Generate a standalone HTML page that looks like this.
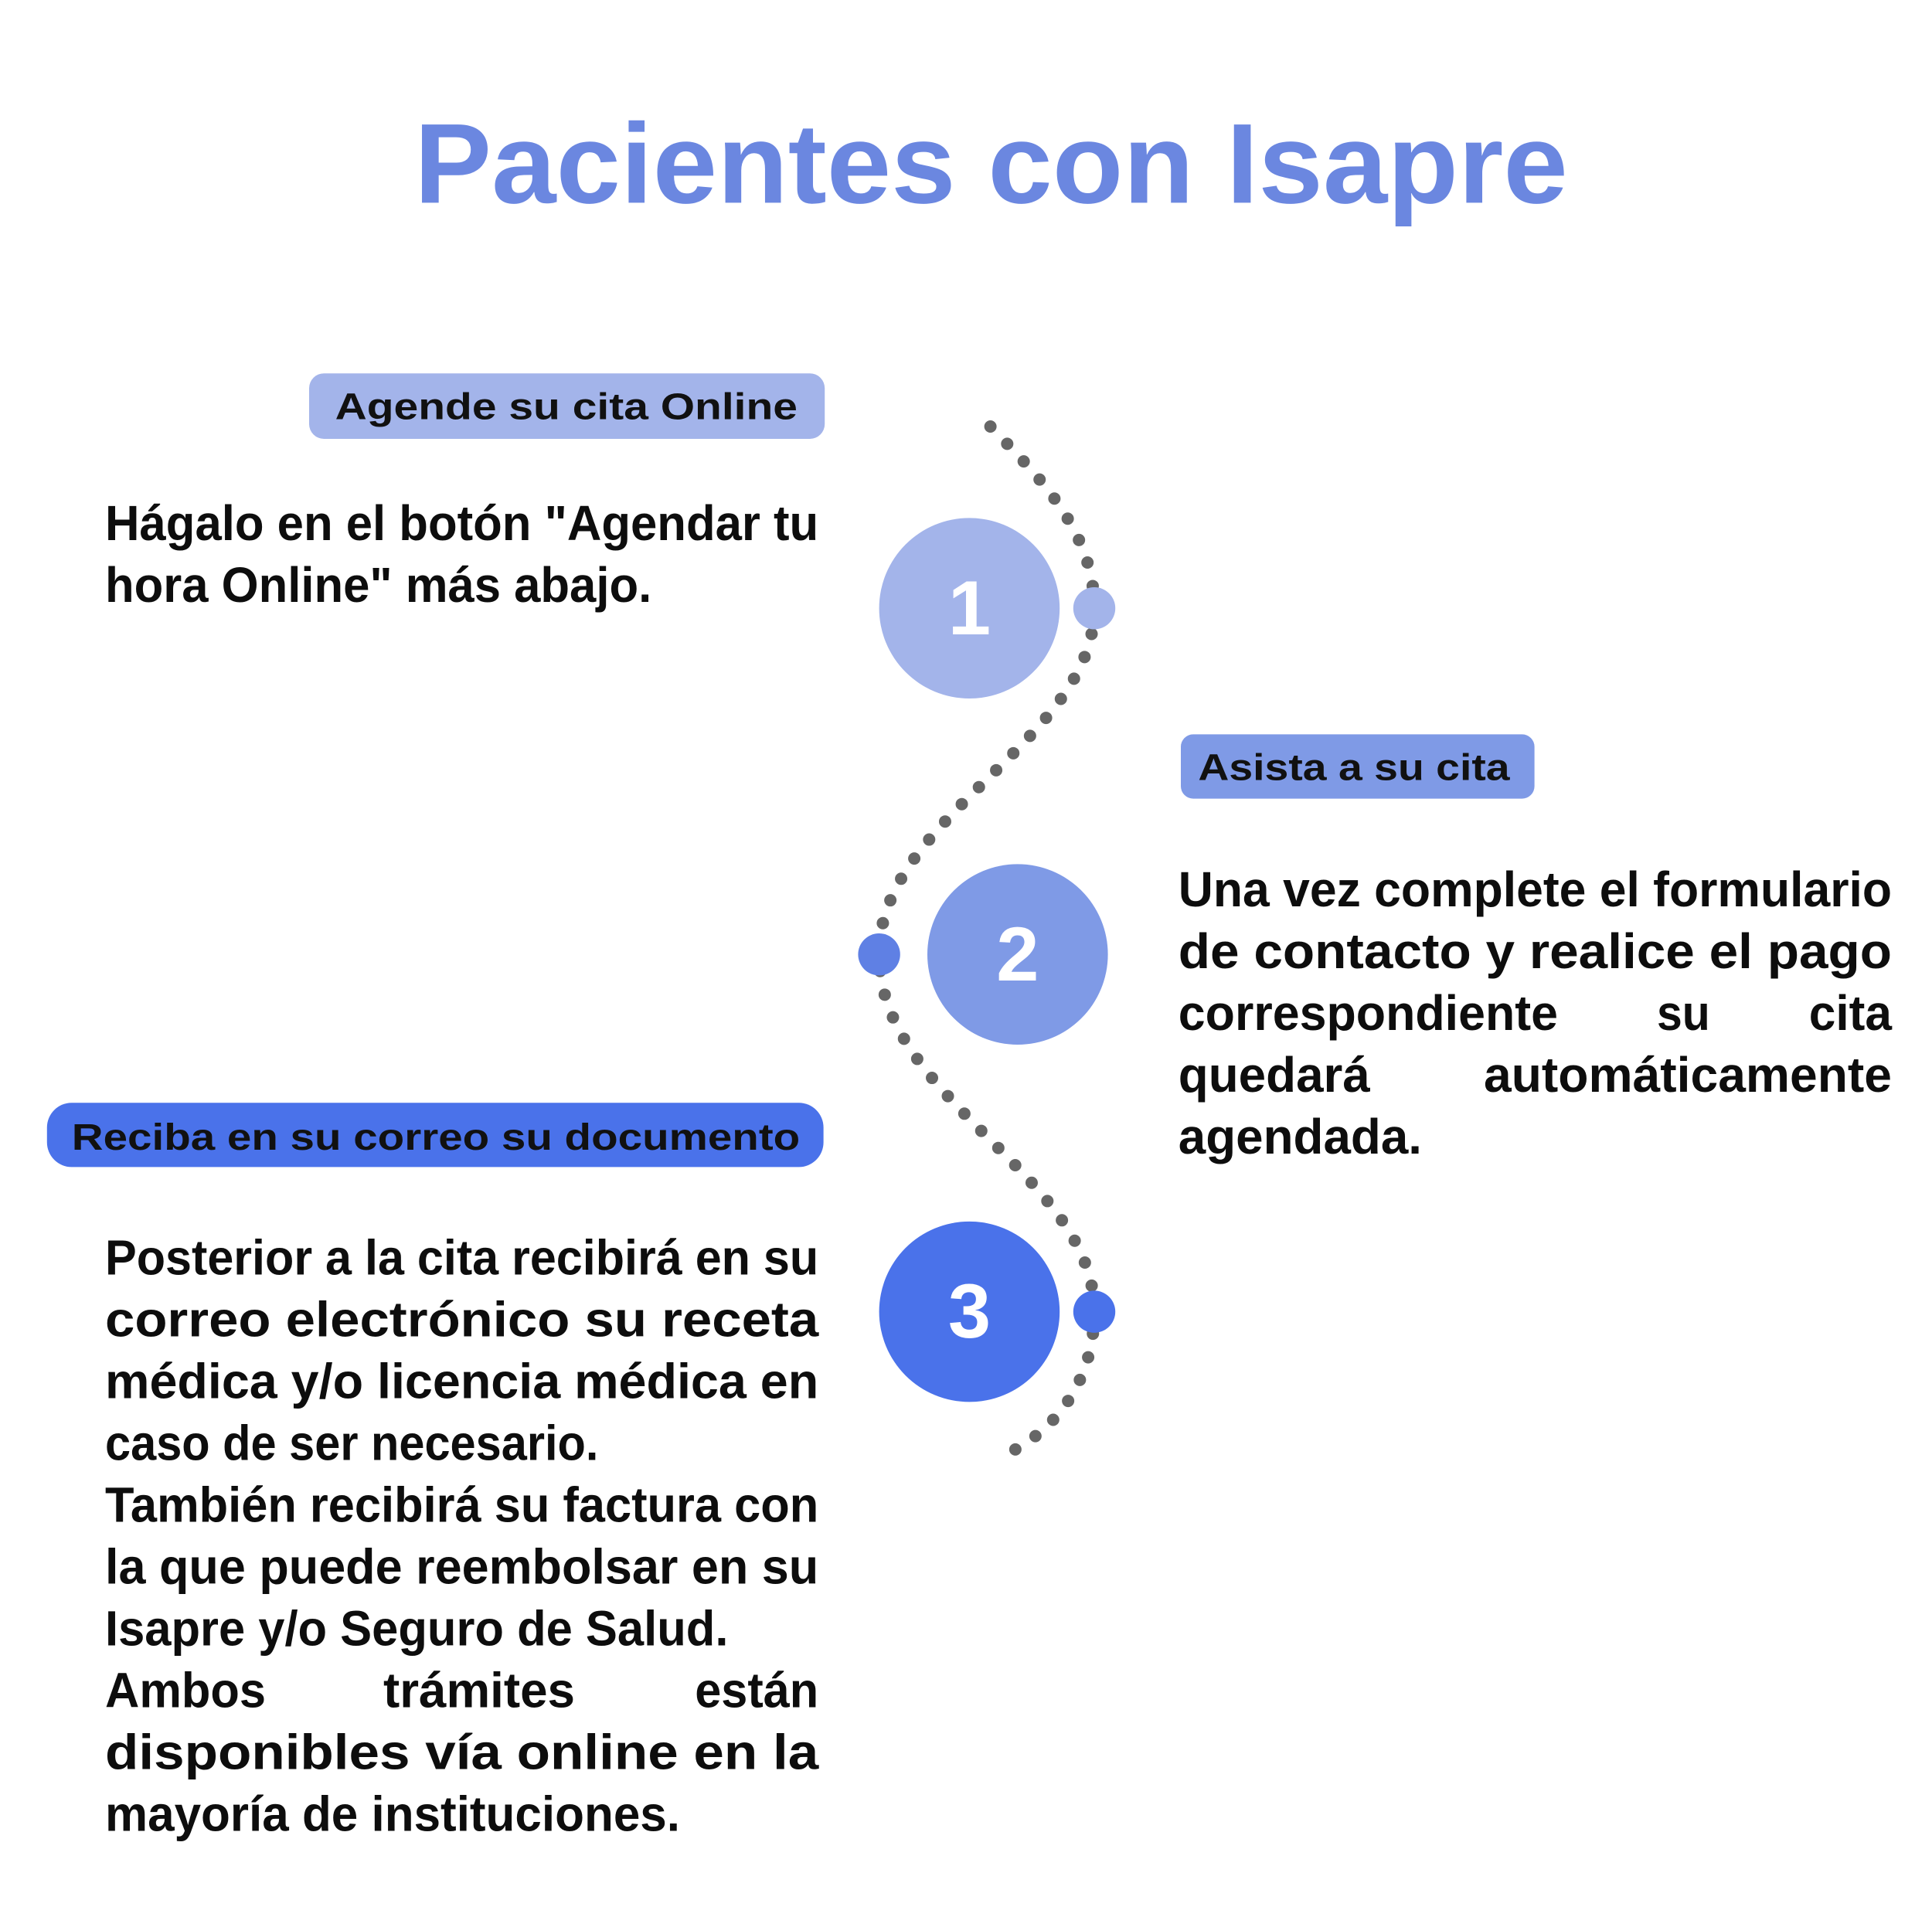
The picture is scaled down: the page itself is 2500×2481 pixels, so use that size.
<!DOCTYPE html>
<html><head><meta charset="utf-8"><style>
html,body{margin:0;padding:0;background:#fff;}
svg{display:block;}
.t{font-family:"Liberation Sans",sans-serif;font-weight:bold;fill:#0d0d0d;font-size:40px;}
.p{font-family:"Liberation Sans",sans-serif;font-weight:bold;fill:#111;font-size:30px;}
</style></head><body>
<svg width="2500" height="2481" viewBox="0 0 1562.5 1550.6" xmlns="http://www.w3.org/2000/svg">
<rect width="1562.5" height="1550.6" fill="#fff"/>
<text x="335" y="164" font-family="Liberation Sans,sans-serif" font-weight="bold" font-size="92" fill="#6b87e0" textLength="933" lengthAdjust="spacingAndGlyphs">Pacientes con Isapre</text>

<!-- dotted curve -->
<path d="M801,345 C840,385 885,430 885,492 C885,600 711,660 711,772 C711,890 885,950 885,1061 C885,1120 850,1160 812,1177" fill="none" stroke="#666" stroke-width="10" stroke-linecap="round" stroke-dasharray="0 19.5"/>

<!-- circles -->
<circle cx="784" cy="492" r="73" fill="#a3b4ea"/>
<circle cx="885" cy="492" r="17" fill="#a3b4ea"/>
<text x="784" y="513" text-anchor="middle" font-family="Liberation Sans,sans-serif" font-weight="bold" font-size="62" fill="#fff">1</text>

<circle cx="823" cy="772" r="73" fill="#7f9ae6"/>
<circle cx="711" cy="772" r="17" fill="#5f80e4"/>
<text x="823" y="793" text-anchor="middle" font-family="Liberation Sans,sans-serif" font-weight="bold" font-size="62" fill="#fff">2</text>

<circle cx="784" cy="1061" r="73" fill="#4a72ea"/>
<circle cx="885" cy="1061" r="17" fill="#4a72ea"/>
<text x="784" y="1082" text-anchor="middle" font-family="Liberation Sans,sans-serif" font-weight="bold" font-size="62" fill="#fff">3</text>

<!-- pills -->
<rect x="250" y="302" width="417" height="53" rx="12" fill="#a3b4ea"/>
<text class="p" x="271" y="339" textLength="374" lengthAdjust="spacingAndGlyphs">Agende su cita Online</text>
<rect x="955" y="594" width="286" height="52" rx="10" fill="#7f9ae6"/>
<text class="p" x="969" y="631" textLength="252" lengthAdjust="spacingAndGlyphs">Asista a su cita</text>
<rect x="38" y="892" width="628" height="52" rx="20" fill="#4a72ea"/>
<text class="p" x="58" y="930" textLength="589" lengthAdjust="spacingAndGlyphs">Reciba en su correo su documento</text>

<!-- para 1 -->
<text class="t" x="85" y="437" textLength="577" lengthAdjust="spacingAndGlyphs">Hágalo en el botón "Agendar tu</text>
<text class="t" x="85" y="487" textLength="442" lengthAdjust="spacingAndGlyphs">hora Online" más abajo.</text>

<!-- para 2 -->
<text class="t" x="953" y="733" textLength="577" lengthAdjust="spacingAndGlyphs">Una vez complete el formulario</text>
<text class="t" x="953" y="783" textLength="577" lengthAdjust="spacingAndGlyphs">de contacto y realice el pago</text>
<text class="t" x="953" y="833" textLength="307" lengthAdjust="spacingAndGlyphs">correspondiente</text>
<text class="t" x="1340" y="833" textLength="43" lengthAdjust="spacingAndGlyphs">su</text>
<text class="t" x="1463" y="833" textLength="67" lengthAdjust="spacingAndGlyphs">cita</text>
<text class="t" x="953" y="883" textLength="155" lengthAdjust="spacingAndGlyphs">quedará</text>
<text class="t" x="1200" y="883" textLength="330" lengthAdjust="spacingAndGlyphs">automáticamente</text>
<text class="t" x="953" y="933" textLength="197" lengthAdjust="spacingAndGlyphs">agendada.</text>

<!-- para 3 -->
<text class="t" x="85" y="1031" textLength="577" lengthAdjust="spacingAndGlyphs">Posterior a la cita recibirá en su</text>
<text class="t" x="85" y="1081" textLength="577" lengthAdjust="spacingAndGlyphs">correo electrónico su receta</text>
<text class="t" x="85" y="1131" textLength="577" lengthAdjust="spacingAndGlyphs">médica y/o licencia médica en</text>
<text class="t" x="85" y="1181" textLength="399" lengthAdjust="spacingAndGlyphs">caso de ser necesario.</text>
<text class="t" x="85" y="1231" textLength="577" lengthAdjust="spacingAndGlyphs">También recibirá su factura con</text>
<text class="t" x="85" y="1281" textLength="577" lengthAdjust="spacingAndGlyphs">la que puede reembolsar en su</text>
<text class="t" x="85" y="1331" textLength="504" lengthAdjust="spacingAndGlyphs">Isapre y/o Seguro de Salud.</text>
<text class="t" x="85" y="1381" textLength="130" lengthAdjust="spacingAndGlyphs">Ambos</text>
<text class="t" x="310" y="1381" textLength="155" lengthAdjust="spacingAndGlyphs">trámites</text>
<text class="t" x="562" y="1381" textLength="100" lengthAdjust="spacingAndGlyphs">están</text>
<text class="t" x="85" y="1431" textLength="577" lengthAdjust="spacingAndGlyphs">disponibles vía online en la</text>
<text class="t" x="85" y="1481" textLength="465" lengthAdjust="spacingAndGlyphs">mayoría de instituciones.</text>
</svg>
</body></html>
